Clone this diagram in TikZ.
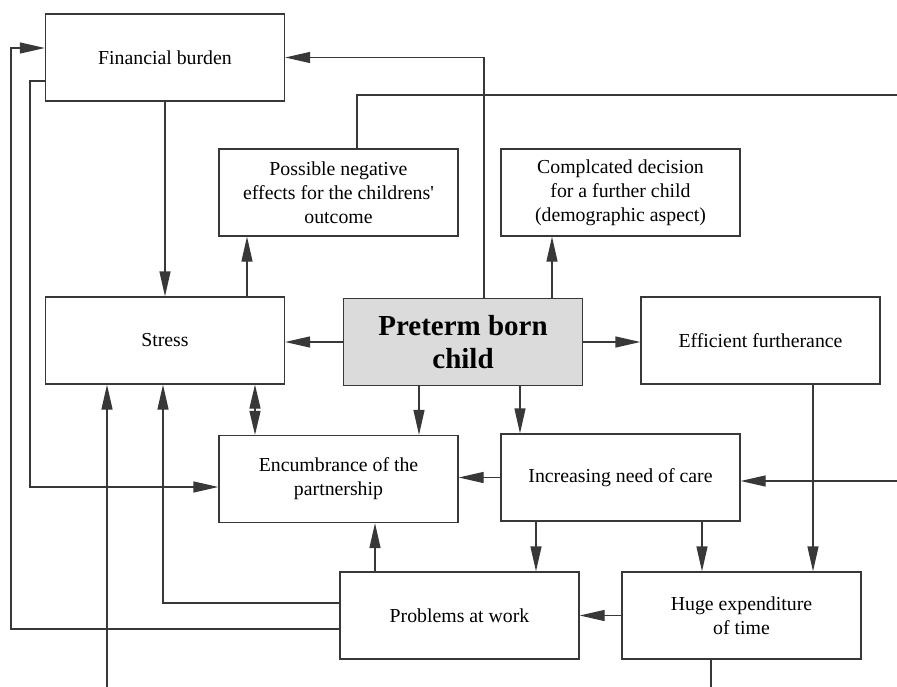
\documentclass[tikz,border=0pt]{standalone}
\usepackage{fontspec}
\setmainfont{Liberation Serif}
\usetikzlibrary{arrows.meta}
\colorlet{linecol}{black!78}

\begin{document}
\begin{tikzpicture}[x=1pt, y=-1pt, line width=1.3pt,
    box/.style={draw=linecol, minimum width=239pt, minimum height=87pt, align=center,
      font=\fontsize{19.8}{24}\selectfont},
    arr/.style={draw=linecol, -{Triangle[length=25pt,width=11pt]}},
    arrboth/.style={draw=linecol, {Triangle[length=24pt,width=11pt]}-{Triangle[length=24pt,width=11pt]}},
    plain/.style={draw=linecol}]
  \useasboundingbox (0,0) rectangle (897,687);
  % boxes
  \node[box] (fin) at (165,57.5) {Financial burden};
  \node[box] (neg) at (338.5,192.5) {Possible negative\\effects for the childrens\textquotesingle\\outcome};
  \node[box] (dec) at (620.5,192.5) {Complcated decision\\for a further child\\(demographic aspect)};
  \node[box] (stress) at (165,340.5) {Stress};
  \node[box, fill=black!14, line width=1.8pt, font=\fontsize{29}{33}\selectfont\bfseries] (child) at (463,342) {Preterm born\\child};
  \node[box] (eff) at (760.5,340.5) {Efficient furtherance};
  \node[box] (enc) at (338.5,479) {Encumbrance of the\\partnership};
  \node[box] (care) at (620.5,477.5) {Increasing need of care};
  \node[box] (work) at (459.5,615.5) {Problems at work};
  \node[box] (time) at (741.5,615.5) {Huge expenditure\\of time};
  % free ends
  \coordinate (negend) at (897,95);
  \coordinate (carein) at (897,481);
  \coordinate (timeend) at (711,687);
  \coordinate (stressin) at (107,687);
  \coordinate (leftouter) at (11,48);
  \coordinate (leftinner) at (30,487);
  % connectors
  \draw[arr] ([xshift=21pt]child.north) |- (fin);
  \draw[plain] ([xshift=18.5pt]neg.north) |- (negend);
  \draw[arr] ([xshift=89pt]child.north) -- ([xshift=89pt]child.north |- dec.south);
  \draw[arr] (fin) -- (stress);
  \draw[arr] ([xshift=82pt]stress.north) -- ([xshift=82pt]stress.north |- neg.south);
  \draw[arr] (child.west) -- (child.west -| stress.east);
  \draw[arr] (child.east) -- (child.east -| eff.west);
  \draw[arrboth] ([xshift=90pt]stress.south) -- ([xshift=90pt]stress.south |- enc.north);
  \draw[arr] ([xshift=-44pt]child.south) -- ([xshift=-44pt]child.south |- enc.north);
  \draw[arr] ([xshift=57pt]child.south) -- ([xshift=57pt]child.south |- care.north);
  \draw[arr] (care.west) -- (care.west -| enc.east);
  \draw[arr] (carein) -- (carein -| care.east);
  \draw[arr] ([xshift=52.5pt]eff.south) -- ([xshift=52.5pt]eff.south |- time.north);
  \draw[arr] ([xshift=-84.5pt]care.south) -- ([xshift=-84.5pt]care.south |- work.north);
  \draw[arr] ([xshift=81.5pt]care.south) -- ([xshift=81.5pt]care.south |- time.north);
  \draw[arr] (time.west) -- (time.west -| work.east);
  \draw[plain] (time.south -| timeend) -- (timeend);
  \draw[arr] ([xshift=-84.5pt]work.north) -- ([xshift=-84.5pt]work.north |- enc.south);
  \draw[arr] ([yshift=12.5pt]work.west) -| ([xshift=-2pt]stress.south);
  \draw[arr] ([yshift=-13.5pt]work.west) -| (leftouter) -- (leftouter -| fin.west);
  \draw[arr] ([yshift=-23.5pt]fin.west) -| (leftinner) -- (leftinner -| enc.west);
  \draw[arr] (stressin) -- (stressin |- stress.south);
\end{tikzpicture}
\end{document}
